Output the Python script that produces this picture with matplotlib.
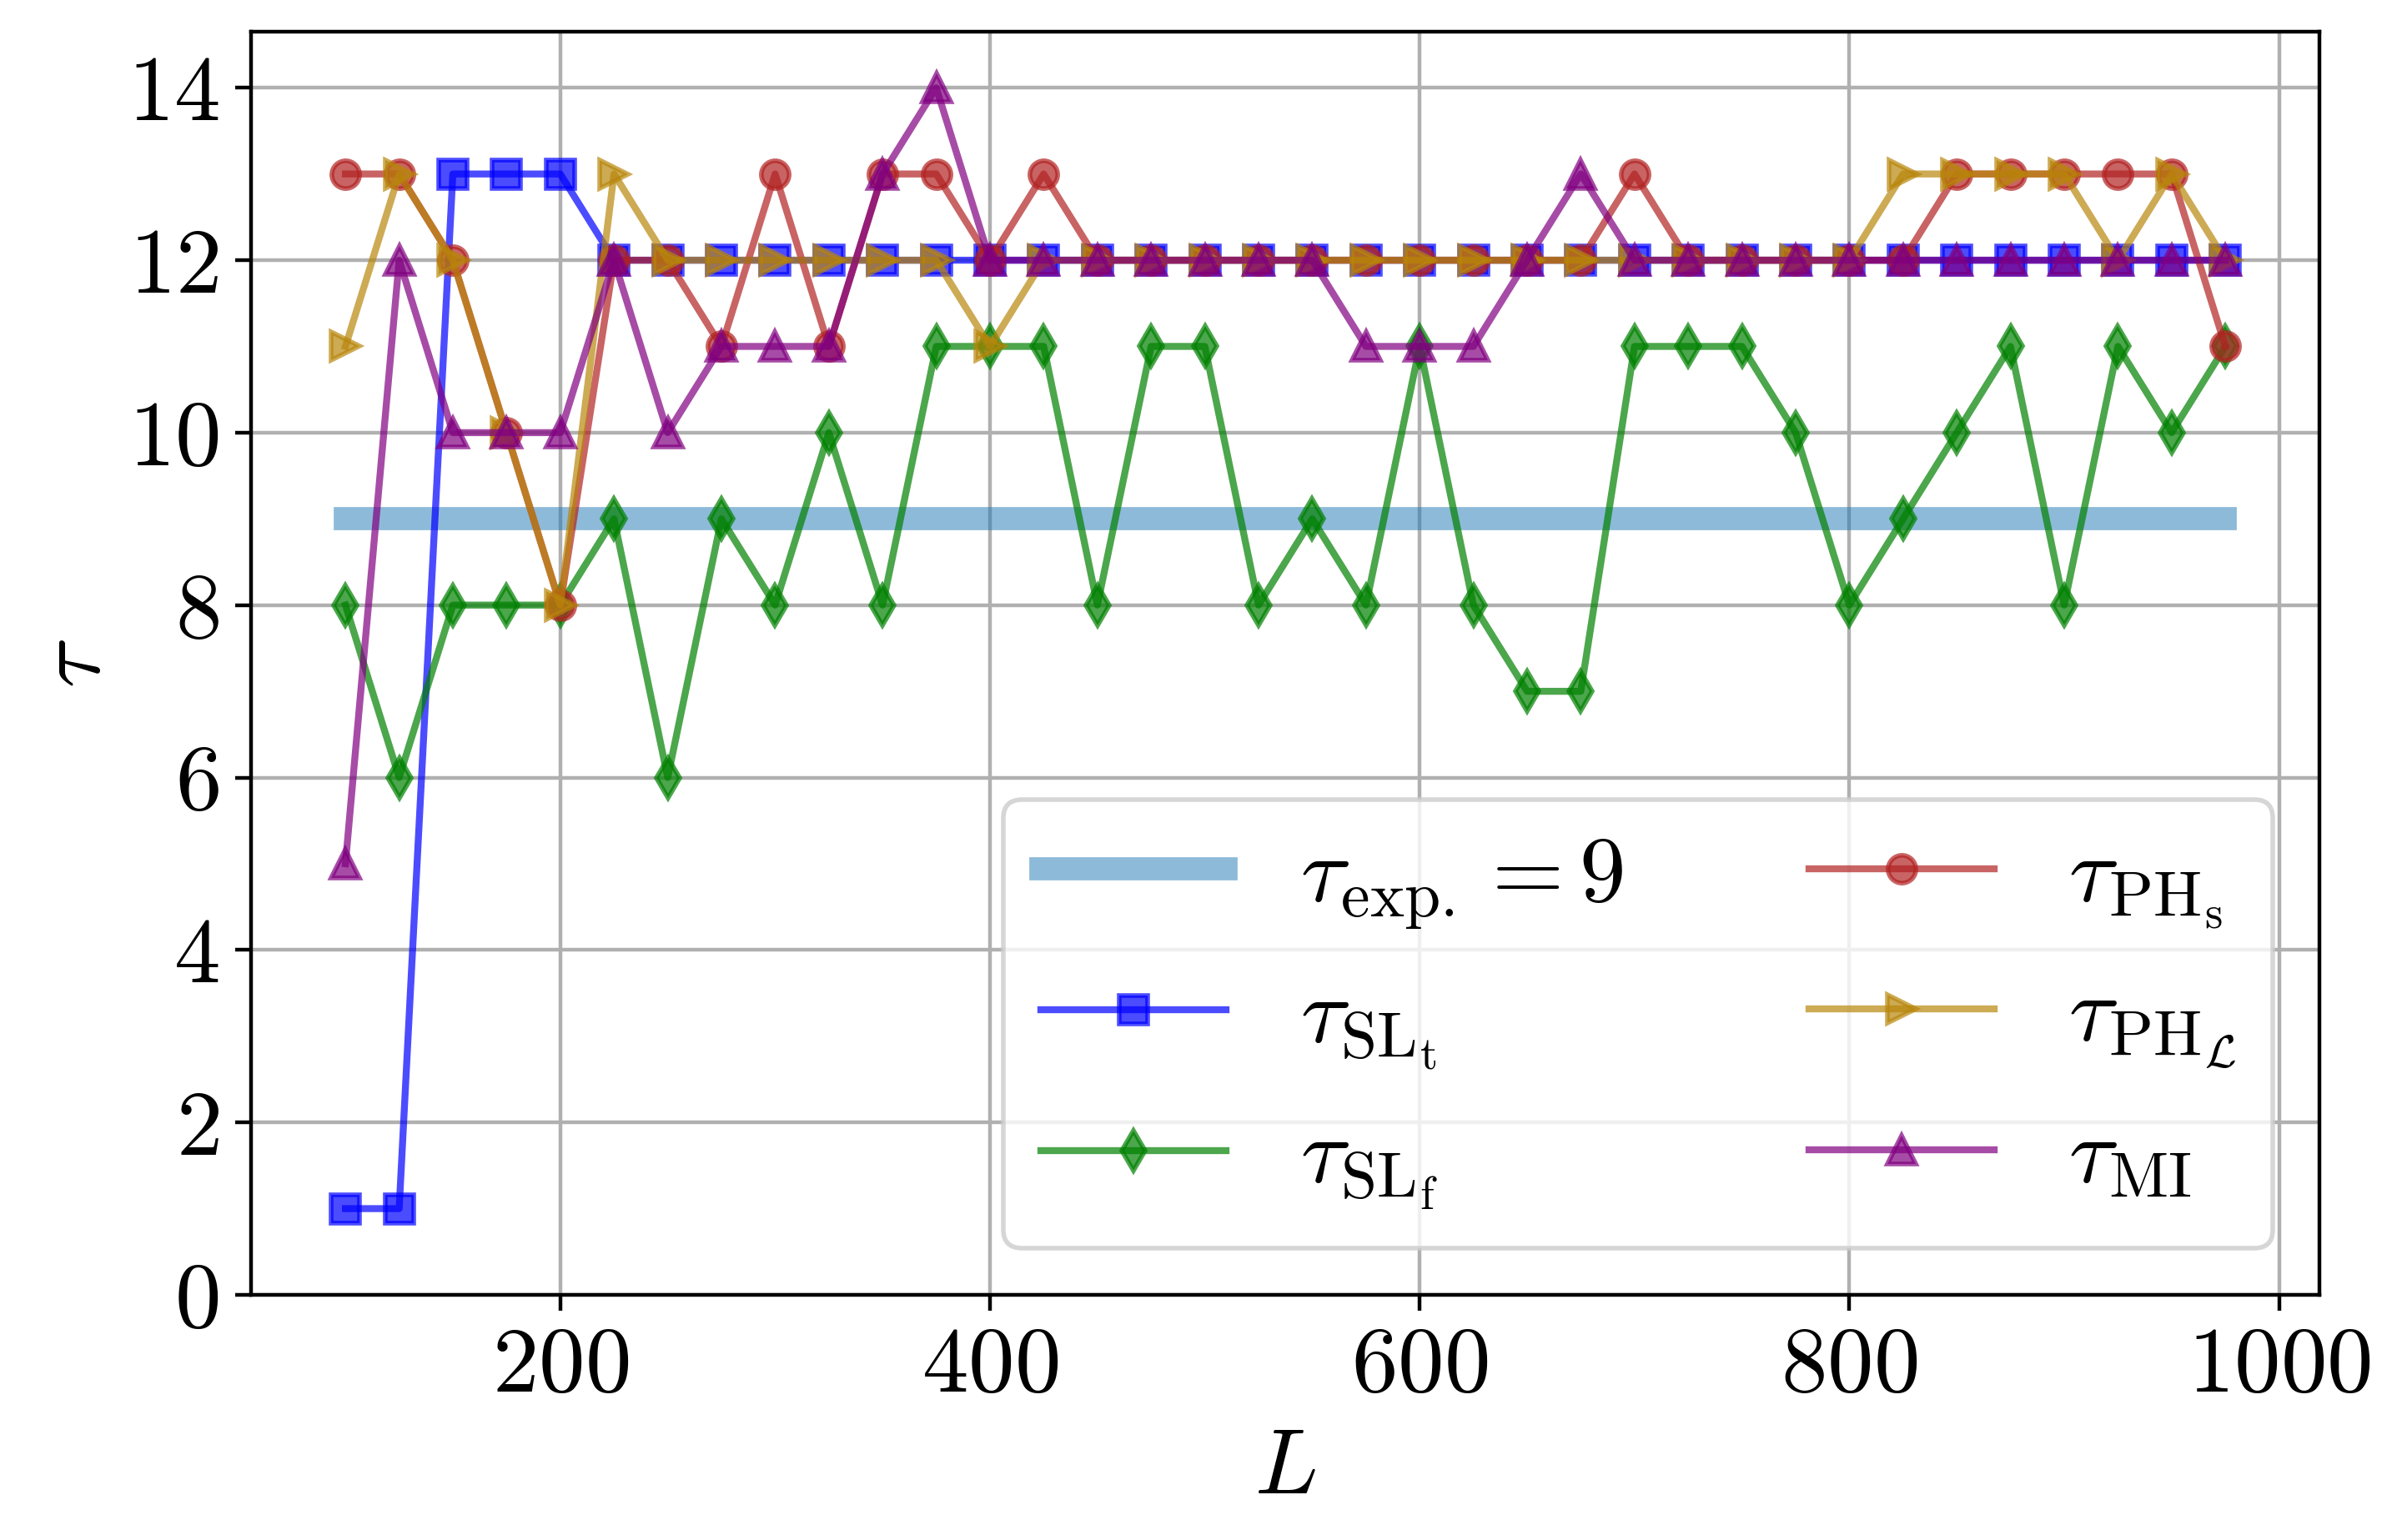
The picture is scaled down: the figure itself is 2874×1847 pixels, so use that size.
import matplotlib
matplotlib.use("Agg")
import matplotlib.pyplot as plt
from matplotlib.ticker import FuncFormatter

plt.rcParams['mathtext.fontset'] = 'cm'
plt.rcParams['font.family'] = 'serif'
plt.rcParams['font.serif'] = ['cmr10', 'DejaVu Serif']
plt.rcParams['axes.formatter.use_mathtext'] = True
plt.rcParams['font.size'] = 20

L = [100, 125, 150, 175, 200, 225, 250, 275, 300, 325, 350, 375, 400, 425, 450,
     475, 500, 525, 550, 575, 600, 625, 650, 675, 700, 725, 750, 775, 800, 825,
     850, 875, 900, 925, 950, 975]

tau_exp = 9
tau_SLt = [1, 1, 13, 13, 13, 12, 12, 12, 12, 12, 12, 12, 12, 12, 12,
           12, 12, 12, 12, 12, 12, 12, 12, 12, 12, 12, 12, 12, 12, 12,
           12, 12, 12, 12, 12, 12]
tau_SLf = [8, 6, 8, 8, 8, 9, 6, 9, 8, 10, 8, 11, 11, 11, 8,
           11, 11, 8, 9, 8, 11, 8, 7, 7, 11, 11, 11, 10, 8, 9,
           10, 11, 8, 11, 10, 11]
tau_PHs = [13, 13, 12, 10, 8, 12, 12, 11, 13, 11, 13, 13, 12, 13, 12,
           12, 12, 12, 12, 12, 12, 12, 12, 12, 13, 12, 12, 12, 12, 12,
           13, 13, 13, 13, 13, 11]
tau_PHL = [11, 13, 12, 10, 8, 13, 12, 12, 12, 12, 12, 12, 11, 12, 12,
           12, 12, 12, 12, 12, 12, 12, 12, 12, 12, 12, 12, 12, 12, 13,
           13, 13, 13, 12, 13, 12]
tau_MI = [5, 12, 10, 10, 10, 12, 10, 11, 11, 11, 13, 14, 12, 12, 12,
          12, 12, 12, 12, 11, 11, 11, 12, 13, 12, 12, 12, 12, 12, 12,
          12, 12, 12, 12, 12, 12]

x_ticks = [200, 400, 600, 800, 1000]
y_ticks = [0, 2, 4, 6, 8, 10, 12, 14]

fig = plt.figure(figsize=(2874 / 400, 1847 / 400), dpi=400)
ax = fig.add_axes([0.1049, 0.1592, 0.9676 - 0.1049, 0.9794 - 0.1592])

ax.plot(L, [tau_exp] * len(L), color='C0', lw=5, alpha=0.5,
        label=r'$\tau_{\mathrm{exp.}}=9$')
ax.plot(L, tau_SLt, color='b', marker='s', alpha=0.7,
        label=r'$\tau_{\mathrm{SL_t}}$')
ax.plot(L, tau_SLf, color='g', marker='d', alpha=0.7,
        label=r'$\tau_{\mathrm{SL_f}}$')
ax.plot(L, tau_PHs, color='firebrick', marker='o', alpha=0.7,
        label=r'$\tau_{\mathrm{PH_s}}$')
ax.plot(L, tau_PHL, color='darkgoldenrod', marker='>', alpha=0.7,
        label=r'$\tau_{\mathrm{PH}_\mathcal{L}}$')
ax.plot(L, tau_MI, color='purple', marker='^', alpha=0.7,
        label=r'$\tau_{\mathrm{MI}}$')

ax.set_ylim(bottom=0)
ax.set_xticks(x_ticks)
ax.set_yticks(y_ticks)
fmt = FuncFormatter(lambda v, p: r'$%g$' % v)
ax.xaxis.set_major_formatter(fmt)
ax.yaxis.set_major_formatter(fmt)
ax.tick_params(labelsize=20)
ax.grid(True)
ax.set_xlabel(r'$L$', fontsize=20)
ax.set_ylabel(r'$\tau$', fontsize=20, labelpad=2)
ax.legend(loc='lower right', ncol=2, fontsize=20)

fig.savefig('out.png', dpi=400)
